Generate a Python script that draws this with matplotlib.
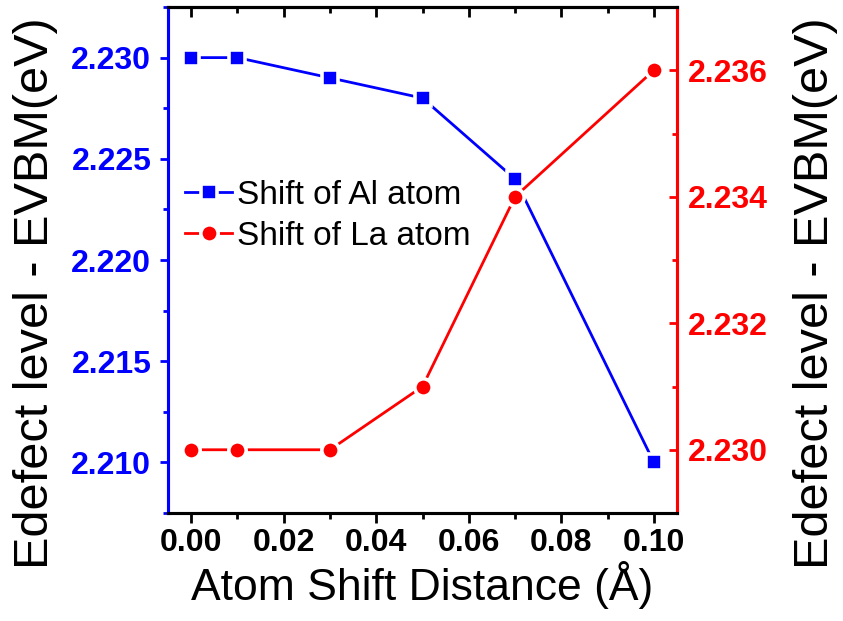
import numpy as np
import matplotlib.pyplot as plt
from matplotlib.ticker import MultipleLocator, FormatStrFormatter

plt.rcParams['font.family'] = ['Liberation Sans', 'DejaVu Sans']

# data
shift = [0.00, 0.01, 0.03, 0.05, 0.07, 0.10]
al_level = [2.230, 2.230, 2.229, 2.228, 2.224, 2.210]
la_level = [2.230, 2.230, 2.230, 2.231, 2.234, 2.236]

blue = '#0000ff'
red = '#ff0000'
ylab = 'Edefect level - EVBM(eV)'

fig = plt.figure(figsize=(8.43, 6.21), dpi=100)
ax = fig.add_axes([0.1993, 0.1739, 0.6038, 0.8148])
ax2 = ax.twinx()

l1, = ax.plot(shift, al_level, color=blue, lw=2, marker='s', ms=12,
              mec='white', mew=2.6, label='Shift of Al atom')
l2, = ax2.plot(shift, la_level, color=red, lw=2, marker='o', ms=12.5,
               mec='white', mew=2.6, label='Shift of La atom')

ax.set_xlim(-0.005, 0.105)
ax.set_ylim(2.2075, 2.2325)
ax2.set_ylim(2.229, 2.237)

ax.xaxis.set_major_locator(MultipleLocator(0.02))
ax.xaxis.set_minor_locator(MultipleLocator(0.01))
ax.yaxis.set_major_locator(MultipleLocator(0.005))
ax.yaxis.set_minor_locator(MultipleLocator(0.0025))
ax2.yaxis.set_major_locator(MultipleLocator(0.002))
ax2.yaxis.set_minor_locator(MultipleLocator(0.001))
ax.xaxis.set_major_formatter(FormatStrFormatter('%.2f'))
ax.yaxis.set_major_formatter(FormatStrFormatter('%.3f'))
ax2.yaxis.set_major_formatter(FormatStrFormatter('%.3f'))

# top axis: ticks pointing inward, no labels
top = ax.secondary_xaxis('top')
top.xaxis.set_major_locator(MultipleLocator(0.02))
top.xaxis.set_minor_locator(MultipleLocator(0.01))
top.tick_params(which='both', direction='in', width=2, labeltop=False)
top.tick_params(which='major', length=7)
top.tick_params(which='minor', length=4)
top.spines['top'].set_linewidth(2.2)

for a in (ax, ax2):
    for sp in a.spines.values():
        sp.set_linewidth(2.2)
ax.spines['left'].set_color(blue)
ax2.spines['left'].set_color(blue)
ax2.spines['right'].set_color(red)
ax.spines['right'].set_color(red)

ax.tick_params(axis='x', which='both', direction='out', width=2,
               labelsize=23, pad=4)
ax.tick_params(axis='x', which='major', length=7)
ax.tick_params(axis='x', which='minor', length=4)
ax.tick_params(axis='y', which='both', direction='out', width=2, colors=blue,
               labelsize=23, pad=6)
ax.tick_params(axis='y', which='major', length=6)
ax.tick_params(axis='y', which='minor', length=3.5)
ax2.tick_params(axis='y', which='both', direction='in', width=2, colors=red,
                labelsize=23, pad=8)
ax2.tick_params(axis='y', which='major', length=6)
ax2.tick_params(axis='y', which='minor', length=3.5)

for lab in ax.get_xticklabels() + ax.get_yticklabels() + ax2.get_yticklabels():
    lab.set_fontweight('bold')

ax.set_xlabel('Atom Shift Distance (Å)', fontsize=32, labelpad=2)
fig.text(36 / 843, 1 - 293 / 621, ylab, fontsize=35, rotation=90,
         ha='center', va='center')
fig.text(815 / 843, 1 - 293 / 621, ylab, fontsize=35, rotation=90,
         ha='center', va='center')

ax.legend([l1, l2], [l1.get_label(), l2.get_label()], loc='upper left',
          bbox_to_anchor=(-0.012, 0.705), frameon=False, fontsize=24,
          handlelength=1.4, handletextpad=0.15, borderaxespad=0.3,
          labelspacing=0.3)

fig.savefig('out.png', dpi=100)
